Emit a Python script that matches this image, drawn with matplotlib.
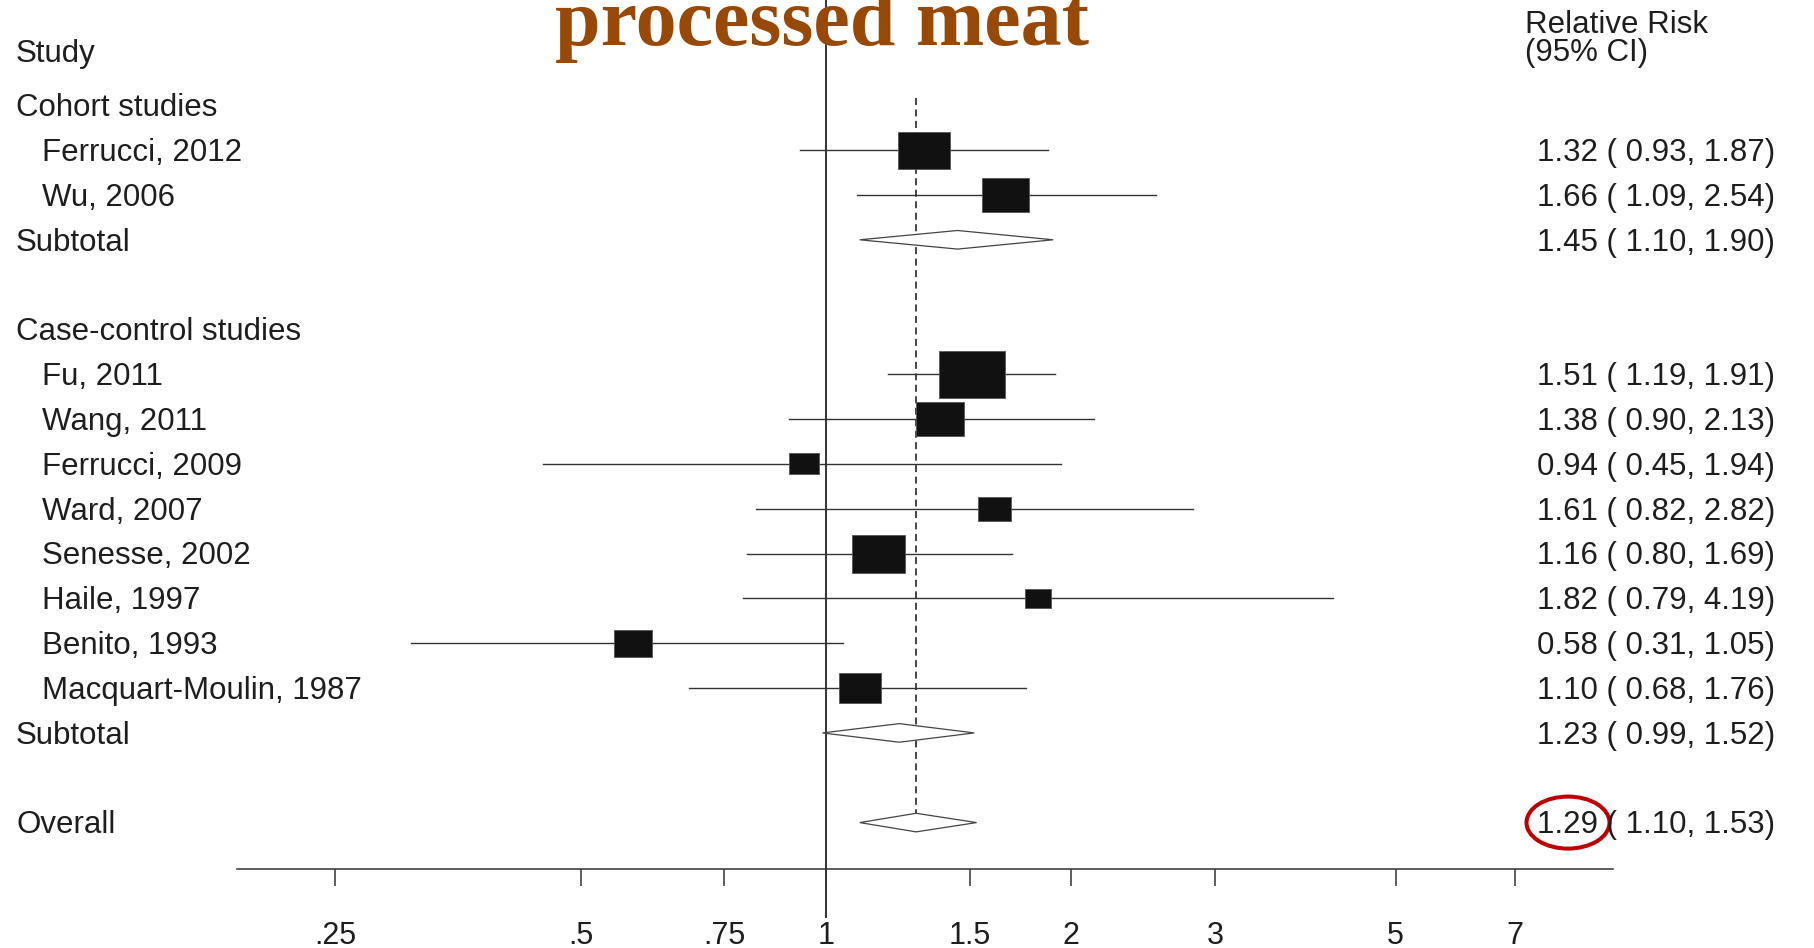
import numpy as np
import matplotlib
matplotlib.use("Agg")
import matplotlib.pyplot as plt
from matplotlib.patches import Rectangle, Polygon, Ellipse
from matplotlib.transforms import blended_transform_factory

# Cohort studies
cohort_names = ["Ferrucci, 2012", "Wu, 2006"]
cohort_rr = [1.32, 1.66]
cohort_lo = [0.93, 1.09]
cohort_hi = [1.87, 2.54]
cohort_wt = [13.3, 11.0]
cohort_sub = [1.45, 1.10, 1.90]

# Case-control studies
cc_names = ["Fu, 2011", "Wang, 2011", "Ferrucci, 2009", "Ward, 2007",
            "Senesse, 2002", "Haile, 1997", "Benito, 1993", "Macquart-Moulin, 1987"]
cc_rr = [1.51, 1.38, 0.94, 1.61, 1.16, 1.82, 0.58, 1.10]
cc_lo = [1.19, 0.90, 0.45, 0.82, 0.80, 0.79, 0.31, 0.68]
cc_hi = [1.91, 2.13, 1.94, 2.82, 1.69, 4.19, 1.05, 1.76]
cc_wt = [21.5, 11.0, 4.3, 5.4, 13.9, 3.6, 7.0, 8.9]
cc_sub = [1.23, 0.99, 1.52]

overall = [1.29, 1.10, 1.53]

tick_vals = [0.25, 0.5, 0.75, 1, 1.5, 2, 3, 5, 7]
tick_labels = [".25", ".5", ".75", "1", "1.5", "2", "3", "5", "7"]

TITLE = "processed meat"
BROWN = "#984807"
INK = "#1E1E1E"
LINE = "#333333"
W, H = 1814, 948
PX_LN = 354.0        # pixels per ln unit on the x axis
ROW = 44.83          # pixels per row
Y0 = 105.3           # pixel y of row 0
FS = 22.5

plt.rcParams["font.family"] = ["Liberation Sans", "DejaVu Sans"]

fig = plt.figure(figsize=(W / 100, H / 100), dpi=100)
ax = fig.add_axes([237 / W, 1 - 869 / H, 1376 / W, 869 / H])
ax.set_xscale("log")
ax.set_xlim(np.exp((237 - 826) / PX_LN), np.exp((1613 - 826) / PX_LN))
ax.set_ylim((869 - Y0) / ROW, -Y0 / ROW)
for s in ("top", "left", "right"):
    ax.spines[s].set_visible(False)
ax.spines["bottom"].set_linewidth(1.1)
ax.spines["bottom"].set_color(LINE)
ax.set_yticks([])
ax.set_xticks(tick_vals)
ax.set_xticklabels(tick_labels)
ax.xaxis.set_minor_locator(matplotlib.ticker.NullLocator())
ax.tick_params(axis="x", direction="out", length=12.2, width=1.1, color=LINE,
               pad=25, labelsize=FS - 0.5, labelcolor=INK)

tr = blended_transform_factory(fig.transFigure, ax.transData)
base = 0.24  # baseline offset (rows) to vertically centre cap height on row


def label(row, text, x_px, **kw):
    fig.text(x_px / W, row + base, text, transform=tr, fontsize=FS,
             color=INK, va="baseline", **kw)


def ci_text(row, rr, lo, hi):
    label(row, f"{rr:.2f} ({lo:5.2f}, {hi:.2f})", 1537)


def study(row, name, rr, lo, hi, wt):
    ax.plot([lo, hi], [row, row], color=LINE, lw=1.0, zorder=2)
    wpx = 14.2 * np.sqrt(wt)
    hw = wpx / 2 / PX_LN
    hh = wpx / 1.4 / 2 / ROW
    ax.add_patch(Rectangle((rr * np.exp(-hw), row - hh),
                           rr * np.exp(hw) - rr * np.exp(-hw), 2 * hh,
                           facecolor="#111111", edgecolor="#555555", lw=0.6, zorder=3))
    label(row, name, 42)
    ci_text(row, rr, lo, hi)


def diamond(row, name, rr, lo, hi):
    hh = 9.3 / ROW
    ax.add_patch(Polygon([(lo, row), (rr, row - hh), (hi, row), (rr, row + hh)],
                         closed=True, facecolor="white", edgecolor="#444444",
                         lw=0.9, zorder=3))
    label(row, name, 16)
    ci_text(row, rr, lo, hi)


# reference lines
ax.plot([1, 1], [-Y0 / ROW, (917 - Y0) / ROW], color=LINE, lw=1.4,
        clip_on=False, zorder=1)
row = 0
label(-1.21, "Study", 16)
label((22 - Y0) / ROW, "Relative Risk", 1525)
label((50 - Y0) / ROW, "(95% CI)", 1525)

label(row, "Cohort studies", 16)
row += 1
for i in range(len(cohort_names)):
    study(row, cohort_names[i], cohort_rr[i], cohort_lo[i], cohort_hi[i], cohort_wt[i])
    row += 1
diamond(row, "Subtotal", *cohort_sub)
row += 2
label(row, "Case-control studies", 16)
row += 1
for i in range(len(cc_names)):
    study(row, cc_names[i], cc_rr[i], cc_lo[i], cc_hi[i], cc_wt[i])
    row += 1
diamond(row, "Subtotal", *cc_sub)
row += 2
diamond(row, "Overall", *overall)

ax.plot([overall[0], overall[0]], [(98 - Y0) / ROW, row], color="#444444",
        lw=1.4, linestyle=(0, (3.6, 2.3)), zorder=1)

ax.add_patch(Ellipse((1568 / W, row), 83 / W, 52 / ROW, transform=tr,
                     fill=False, edgecolor="#C00000", lw=2.9, zorder=5,
                     clip_on=False))

fig.text(822 / W, 1 - 45 / H, TITLE, ha="center", va="baseline", fontsize=59,
         fontweight="bold", color=BROWN, family=["Liberation Serif", "DejaVu Serif"],
         zorder=10)

fig.savefig("out.png", dpi=100, facecolor="white")
